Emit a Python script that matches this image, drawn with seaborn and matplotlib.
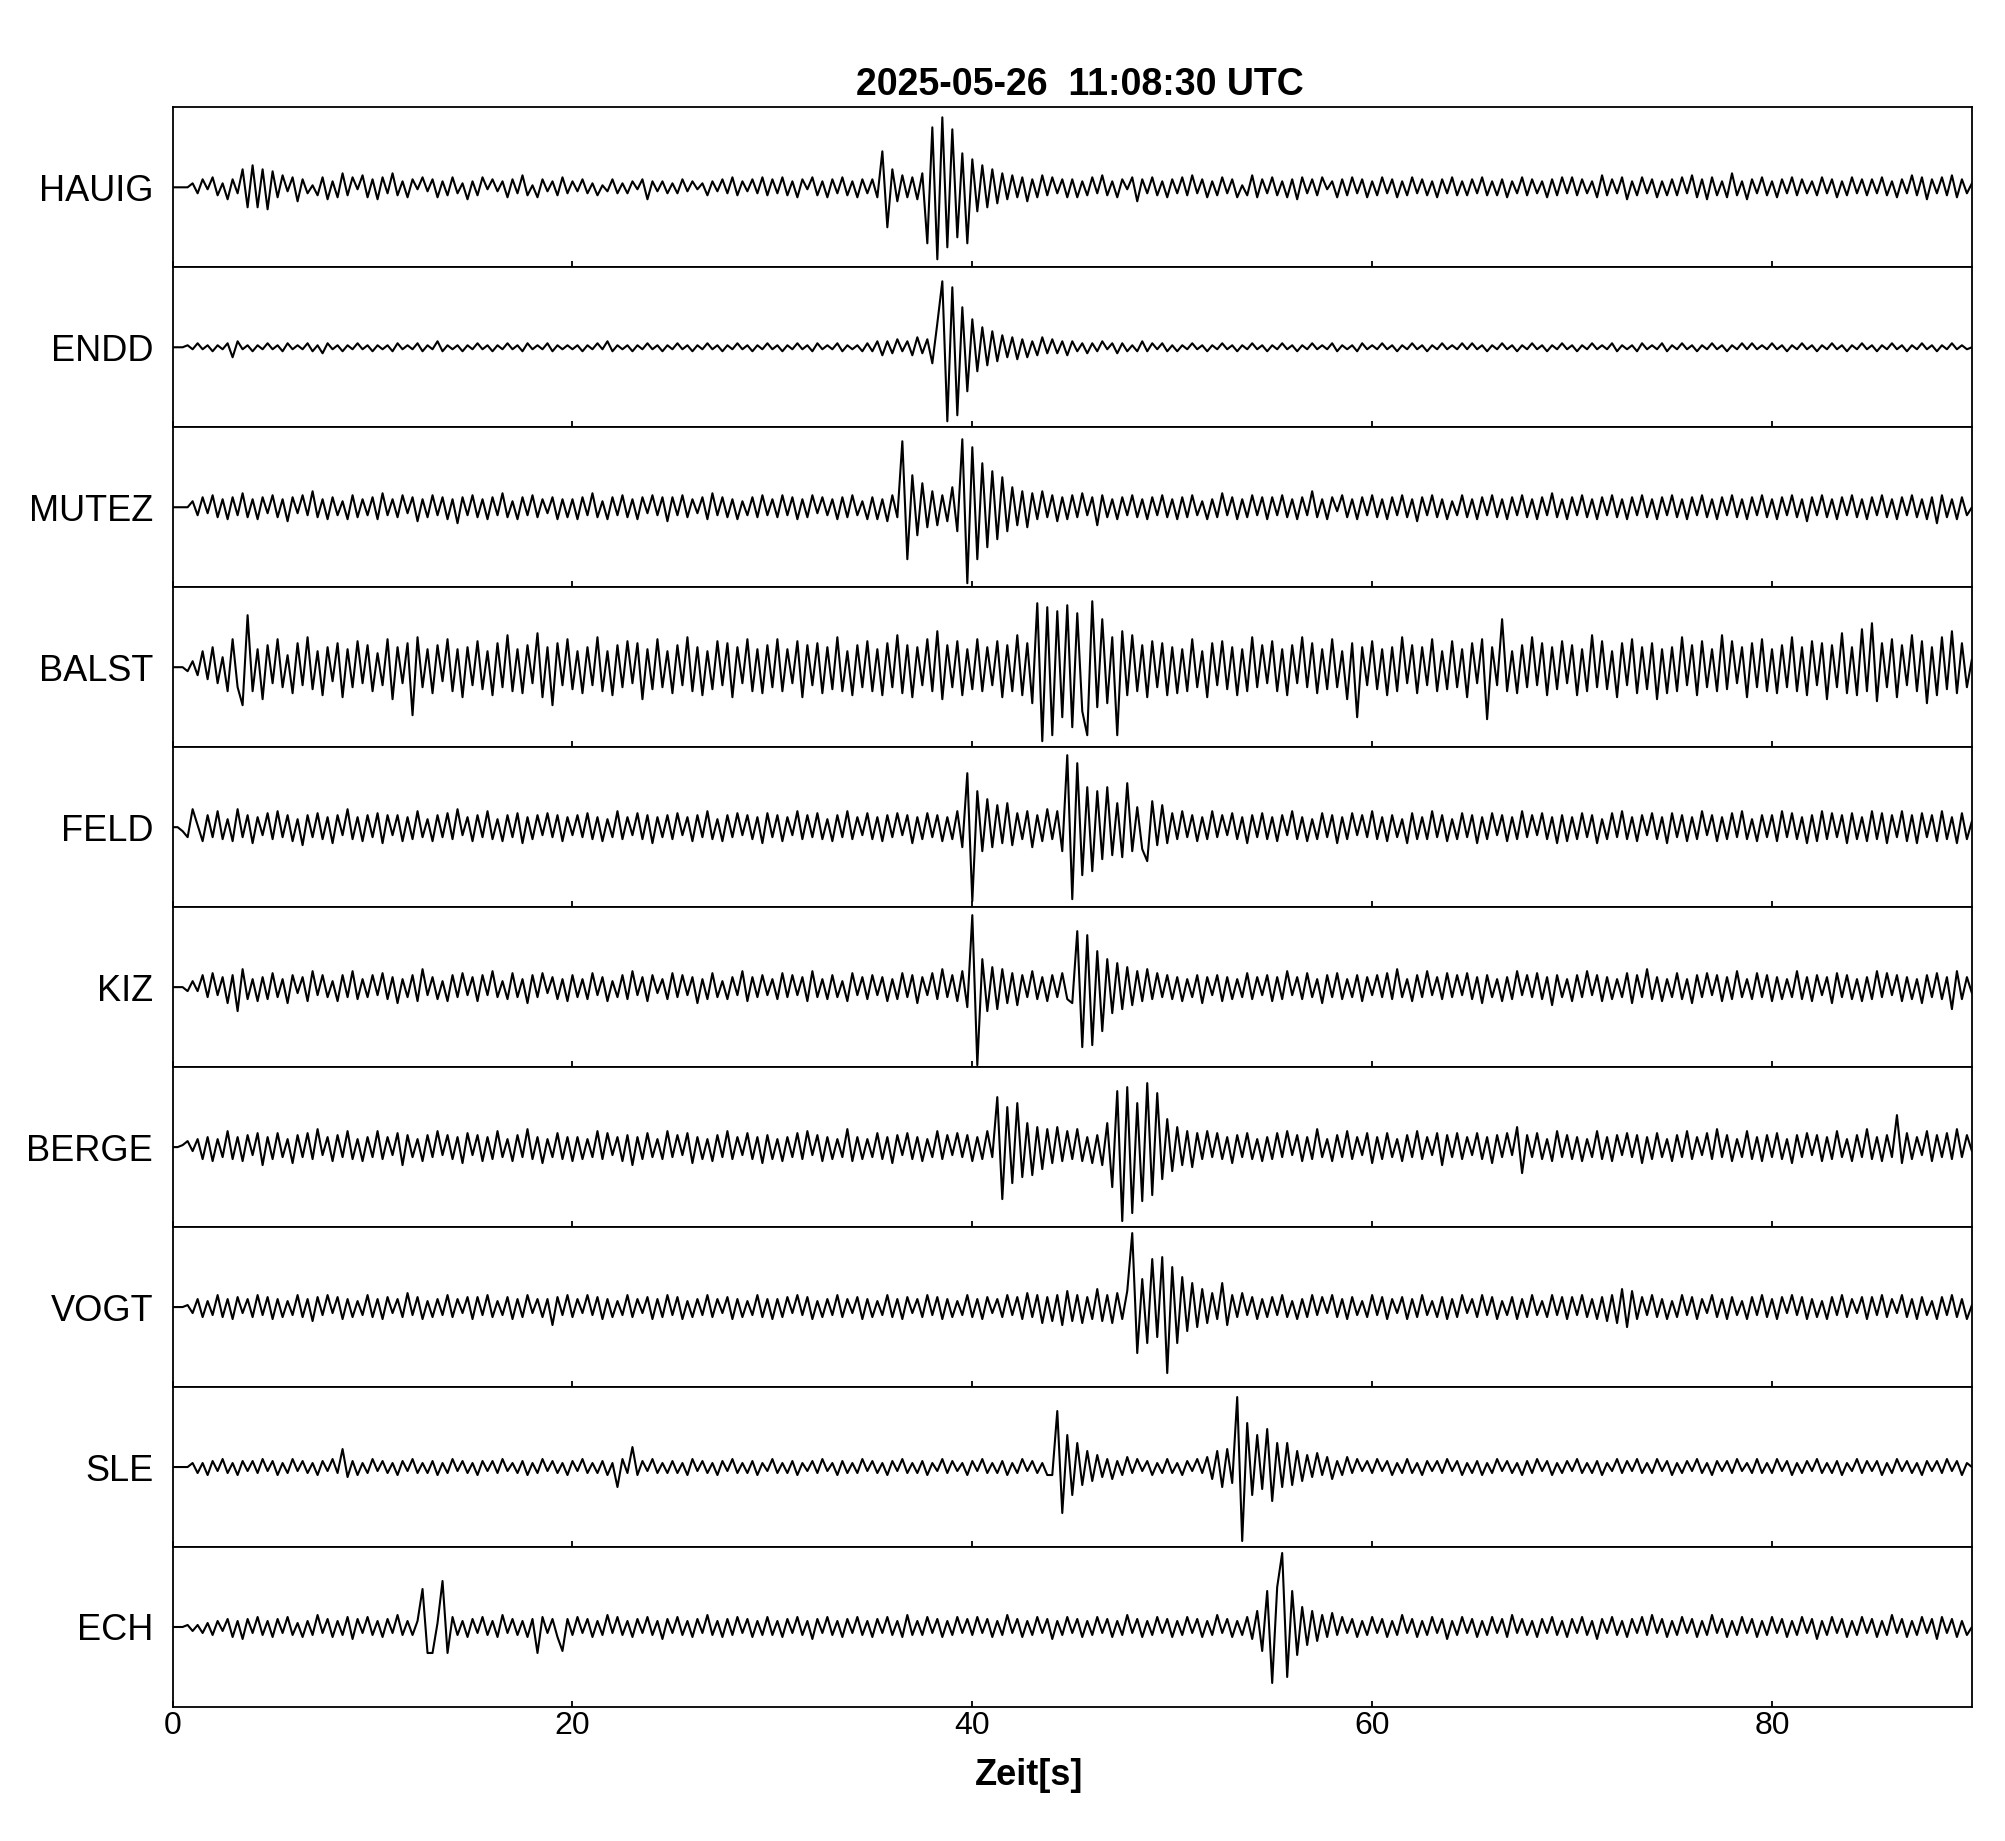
import numpy as np
import matplotlib
matplotlib.use("Agg")
import matplotlib.pyplot as plt
import seaborn as sns

TITLE    = "2025-05-26  11:08:30 UTC"
X_LABEL  = "Zeit[s]"
X_TICKS  = [0, 20, 40, 60, 80]
DURATION = 90

# traces, one sample every 0.25 s (20 samples = 5 s per row)
HAUIG = [
    0, 0, 0, 0, 2, -3, 4, -1, 5, -4, 2, -6, 4, -3, 9, -10, 11, -10, 9, -11,
    8, -5, 6, -2, 5, -7, 4, -3, 1, -4, 5, -6, 3, -5, 7, -4, 5, -1, 6, -5,
    4, -6, 5, -3, 7, -4, 3, -5, 4, -1, 5, -2, 4, -5, 3, -4, 5, -3, 2, -6,
    3, -4, 5, -1, 4, -2, 3, -5, 4, -3, 6, -4, 1, -5, 4, -2, 3, -4, 5, -3,
    3, -2, 4, -3, 2, -4, 1, -2, 4, -3, 2, -3, 3, -1, 4, -6, 3, -2, 3, -3,
    2, -3, 4, -2, 3, -1, 2, -4, 3, -2, 4, -3, 5, -4, 3, -2, 4, -3, 5, -4,
    4, -3, 5, -4, 3, -5, 4, -1, 5, -4, 3, -5, 4, -3, 5, -4, 3, -5, 4, -3,
    4, -5, 18, -20, 9, -7, 6, -5, 5, -6, 7, -28, 30, -36, 35, -30, 29, -25, 17, -28,
    14, -12, 11, -10, 9, -8, 7, -6, 6, -5, 5, -7, 4, -5, 6, -4, 5, -3, 4, -5,
    4, -5, 3, -4, 5, -3, 6, -4, 3, -5, 4, -1, 5, -7, 4, -3, 5, -4, 3, -5,
    4, -3, 5, -4, 6, -3, 4, -5, 3, -4, 5, -3, 4, -5, 1, -4, 6, -5, 4, -3,
    5, -4, 3, -5, 4, -6, 5, -3, 4, -4, 5, -1, 3, -5, 4, -4, 5, -3, 4, -5,
    3, -4, 5, -3, 4, -5, 3, -4, 5, -3, 4, -4, 3, -5, 4, -3, 5, -4, 3, -4,
    4, -3, 5, -4, 3, -4, 4, -5, 3, -3, 5, -4, 4, -3, 3, -5, 4, -4, 5, -3,
    5, -4, 4, -3, 3, -5, 6, -4, 4, -3, 5, -6, 3, -4, 5, -3, 4, -5, 3, -4,
    4, -4, 5, -3, 6, -5, 4, -6, 5, -4, 3, -5, 7, -4, 3, -6, 4, -3, 5, -4,
    3, -5, 4, -3, 5, -4, 4, -3, 3, -4, 5, -3, 4, -5, 3, -4, 5, -3, 4, -4,
    4, -3, 5, -4, 3, -5, 4, -3, 6, -4, 5, -6, 4, -3, 5, -4, 6, -5, 4, -3,
    2,
]

ENDD = [
    0, 0, 0, 1, -1, 2, -1, 1, -2, 1, -1, 2, -5, 3, -1, 1, -2, 1, -1, 2,
    -1, 1, -2, 2, -1, 1, -1, 2, -2, 1, -3, 2, -1, 1, -2, 1, -1, 2, -1, 1,
    -2, 1, -1, 1, -2, 2, -1, 1, -1, 2, -2, 1, -1, 3, -2, 1, -1, 1, -2, 1,
    -1, 2, -1, 1, -2, 1, -1, 2, -1, 1, -2, 2, -1, 1, -1, 2, -2, 1, -1, 1,
    -1, 1, -2, 1, -1, 2, -1, 3, -2, 1, -1, 1, -2, 1, -1, 2, -1, 1, -2, 1,
    -1, 2, -1, 1, -2, 1, -1, 2, -1, 1, -2, 1, -1, 2, -1, 1, -2, 1, -1, 2,
    -1, 1, -2, 1, -1, 2, -1, 1, -2, 2, -1, 1, -1, 2, -2, 1, -1, 1, -2, 2,
    -2, 3, -4, 3, -3, 4, -2, 3, -4, 5, -3, 4, -8, 12, 33, -37, 30, -34, 20, -22,
    14, -12, 10, -9, 8, -7, 6, -5, 5, -6, 4, -5, 3, -4, 5, -3, 4, -3, 3, -4,
    3, -2, 2, -3, 2, -2, 3, -1, 2, -3, 2, -2, 1, -2, 3, -2, 2, -1, 2, -2,
    1, -2, 1, -1, 2, -1, 1, -2, 1, -1, 2, -1, 1, -2, 1, -1, 2, -1, 1, -2,
    1, -1, 2, -1, 1, -2, 1, -1, 2, -1, 1, -1, 2, -2, 1, -1, 1, -2, 2, -1,
    1, -1, 2, -1, 1, -2, 1, -1, 2, -1, 1, -2, 1, -1, 2, -1, 1, -1, 2, -1,
    2, -1, 1, -2, 1, -1, 2, -1, 1, -2, 1, -1, 2, -1, 1, -2, 1, -1, 2, -1,
    1, -2, 1, -1, 2, -1, 1, -1, 2, -2, 1, -1, 1, -2, 2, -1, 1, -1, 2, -2,
    1, -1, 2, -1, 1, -2, 1, -1, 2, -1, 1, -2, 1, -1, 2, -1, 2, -1, 1, -1,
    2, -1, 1, -2, 1, -1, 2, -1, 1, -2, 1, -1, 2, -1, 1, -2, 1, -1, 2, -1,
    1, -2, 1, -1, 2, -1, 1, -2, 1, -1, 2, -1, 1, -2, 1, -1, 2, -1, 1, -1,
    0,
]

MUTEZ = [
    0, 0, 0, 0, 3, -4, 5, -3, 6, -5, 4, -6, 5, -4, 7, -5, 4, -6, 5, -3,
    6, -5, 4, -7, 5, -3, 6, -4, 8, -5, 4, -6, 5, -4, 3, -6, 6, -5, 4, -4,
    5, -6, 7, -4, 4, -5, 6, -3, 5, -7, 4, -5, 6, -4, 5, -6, 4, -8, 5, -4,
    6, -5, 4, -6, 5, -4, 7, -5, 3, -6, 5, -4, 6, -5, 4, -3, 5, -6, 4, -5,
    4, -6, 5, -4, 7, -5, 3, -6, 5, -4, 6, -5, 4, -6, 5, -3, 6, -4, 5, -7,
    5, -4, 6, -5, 4, -3, 5, -6, 7, -4, 5, -5, 4, -6, 3, -4, 5, -5, 6, -4,
    4, -5, 6, -4, 5, -6, 4, -5, 6, -3, 5, -4, 4, -6, 5, -5, 6, -4, 3, -6,
    5, -6, 4, -7, 6, -5, 33, -26, 16, -14, 12, -10, 8, -9, 6, -7, 10, -12, 34, -38,
    30, -26, 22, -20, 18, -16, 15, -12, 10, -9, 8, -10, 7, -6, 8, -5, 6, -7, 5, -6,
    6, -5, 7, -4, 5, -9, 6, -5, 4, -6, 5, -4, 6, -5, 4, -6, 5, -4, 6, -5,
    4, -6, 5, -5, 6, -4, 3, -6, 4, -5, 7, -4, 5, -6, 4, -5, 6, -4, 5, -6,
    5, -4, 6, -5, 4, -6, 5, -4, 8, -5, 4, -6, 5, -2, 6, -5, 4, -6, 5, -4,
    6, -5, 4, -6, 5, -4, 6, -5, 4, -7, 5, -4, 6, -5, 4, -6, 3, -4, 6, -5,
    4, -6, 5, -4, 6, -5, 4, -6, 5, -4, 6, -5, 4, -6, 5, -4, 7, -5, 4, -6,
    5, -4, 6, -5, 4, -6, 5, -4, 6, -5, 4, -6, 5, -4, 6, -5, 4, -6, 5, -4,
    6, -5, 4, -6, 5, -4, 6, -5, 4, -6, 5, -4, 6, -5, 4, -6, 5, -4, 6, -5,
    4, -6, 5, -4, 6, -5, 4, -7, 5, -4, 6, -5, 4, -6, 5, -4, 6, -5, 4, -6,
    5, -4, 6, -5, 4, -6, 5, -4, 6, -5, 4, -6, 5, -8, 6, -5, 4, -6, 5, -4,
    0,
]

BALST = [
    0, 0, 0, -2, 3, -4, 8, -6, 10, -8, 5, -12, 14, -10, -19, 26, -12, 9, -16, 11,
    -8, 14, -10, 6, -13, 12, -9, 15, -11, 8, -14, 10, -7, 12, -15, 9, -10, 13, -8, 11,
    -12, 7, -9, 14, -16, 10, -8, 12, -24, 15, -10, 9, -13, 11, -7, 14, -12, 9, -15, 10,
    -9, 13, -11, 8, -14, 12, -10, 16, -12, 9, -13, 11, -8, 17, -15, 10, -19, 12, -9, 14,
    -11, 8, -13, 10, -9, 15, -12, 8, -14, 11, -10, 13, -8, 12, -16, 9, -11, 14, -10, 8,
    -13, 11, -9, 15, -12, 10, -14, 8, -11, 13, -9, 12, -15, 10, -8, 14, -12, 9, -13, 11,
    -10, 14, -12, 9, -8, 13, -15, 11, -9, 12, -13, 10, -11, 15, -12, 8, -14, 11, -10, 13,
    -12, 9, -14, 12, -10, 16, -13, 11, -15, 10, -9, 14, -12, 18, -16, 11, -10, 13, -14, 9,
    -11, 14, -12, 10, -9, 13, -15, 11, -12, 16, -14, 12, -18, 32, -37, 30, -34, 28, -25, 31,
    -30, 27, -22, -34, 33, -20, 24, -18, 15, -34, 18, -14, 16, -12, 11, -15, 13, -10, 12, -14,
    10, -13, 9, -12, 14, -10, 8, -15, 12, -9, 13, -11, 10, -14, 9, -12, 15, -10, 11, -8,
    13, -12, 9, -14, 11, -8, 15, -10, 12, -13, 9, -11, 14, -10, 8, -16, 12, -25, 10, -9,
    13, -11, 9, -14, 10, -12, 15, -8, 11, -13, 10, -9, 14, -12, 8, -11, 13, -10, 9, -15,
    12, -8, 14, -26, 10, -9, 24, -12, 8, -13, 11, -10, 15, -9, 12, -14, 10, -11, 13, -8,
    11, -14, 9, -12, 16, -10, 13, -11, 8, -15, 12, -9, 14, -13, 10, -11, 12, -16, 9, -13,
    10, -12, 15, -9, 11, -14, 13, -10, 9, -12, 16, -11, 13, -8, 10, -15, 12, -10, 14, -12,
    9, -13, 11, -10, 15, -12, 10, -14, 13, -9, 12, -16, 11, -10, 17, -13, 10, -14, 19, -12,
    22, -17, 12, -10, 14, -15, 11, -9, 16, -12, 13, -18, 10, -14, 15, -11, 18, -13, 12, -10,
    4,
]

FELD = [
    0, 0, -2, -5, 9, 1, -7, 6, -5, 8, -6, 4, -7, 9, -5, 6, -8, 5, -4, 7,
    -6, 8, -5, 6, -7, 4, -9, 6, -5, 7, -6, 5, -8, 6, -4, 9, -6, 5, -7, 6,
    -5, 7, -8, 6, -4, 6, -7, 5, -6, 8, -5, 4, -7, 6, -5, 7, -6, 9, -4, 5,
    -7, 6, -5, 8, -6, 4, -7, 6, -5, 7, -8, 5, -6, 6, -4, 7, -5, 6, -7, 5,
    -4, 6, -5, 7, -6, 5, -7, 4, -5, 8, -6, 5, -4, 7, -6, 6, -8, 5, -5, 6,
    -6, 7, -4, 5, -7, 6, -5, 8, -6, 4, -7, 6, -5, 7, -4, 6, -6, 5, -8, 7,
    -5, 6, -7, 5, -4, 8, -6, 6, -5, 7, -6, 4, -7, 6, -5, 8, -6, 5, -4, 7,
    -6, 5, -7, 6, -5, 7, -4, 6, -8, 5, -6, 7, -5, 6, -7, 5, -6, 8, -10, 27,
    -37, 18, -12, 14, -10, 11, -8, 12, -9, 7, -6, 8, -10, 6, -7, 9, -6, 8, -12, 36,
    -36, 32, -24, 20, -22, 18, -16, 20, -14, 12, -15, 22, -12, 10, -11, -17, 13, -9, 11, -8,
    7, -6, 8, -5, 6, -7, 5, -6, 8, -5, 6, -4, 7, -6, 5, -8, 6, -5, 7, -6,
    5, -7, 6, -4, 8, -6, 5, -7, 4, -6, 7, -5, 6, -8, 5, -6, 7, -4, 6, -5,
    8, -6, 5, -7, 6, -5, 4, -8, 7, -6, 5, -6, 8, -5, 6, -7, 4, -6, 7, -5,
    6, -8, 5, -6, 7, -4, 6, -7, 5, -6, 8, -5, 6, -4, 7, -6, 5, -8, 6, -7,
    5, -6, 7, -5, 6, -8, 4, -6, 7, -5, 8, -6, 5, -7, 6, -4, 7, -6, 5, -8,
    7, -5, 6, -7, 5, -6, 8, -4, 6, -7, 5, -6, 7, -5, 8, -6, 4, -7, 6, -5,
    6, -7, 8, -5, 7, -6, 5, -8, 6, -7, 8, -6, 7, -5, 6, -8, 7, -6, 5, -7,
    8, -6, 7, -8, 6, -5, 8, -7, 6, -8, 7, -5, 6, -7, 8, -6, 5, -8, 7, -6,
    3,
]

KIZ = [
    0, 0, 0, -2, 3, -2, 6, -5, 7, -4, 5, -8, 6, -12, 9, -6, 4, -7, 5, -6,
    7, -5, 4, -8, 6, -3, 5, -7, 8, -4, 6, -5, 3, -7, 6, -5, 8, -6, 4, -5,
    6, -4, 7, -6, 5, -8, 4, -5, 6, -7, 9, -4, 5, -6, 3, -7, 6, -5, 7, -4,
    5, -7, 6, -4, 8, -5, 3, -6, 7, -5, 4, -8, 6, -5, 7, -3, 5, -6, 4, -7,
    6, -5, 4, -6, 7, -4, 5, -7, 3, -5, 6, -6, 8, -4, 5, -7, 6, -3, 4, -6,
    7, -5, 6, -4, 5, -8, 4, -6, 7, -5, 3, -6, 5, -4, 8, -7, 5, -5, 6, -4,
    4, -6, 7, -5, 6, -4, 5, -7, 8, -5, 4, -6, 6, -5, 3, -7, 7, -4, 5, -6,
    6, -4, 5, -7, 4, -6, 7, -5, 6, -8, 5, -4, 7, -6, 9, -5, 6, -7, 8, -10,
    36, -39, 14, -12, 10, -11, 9, -8, 7, -9, 6, -5, 8, -6, 5, -7, 6, -5, 7, -6,
    -8, 28, -30, 26, -29, 18, -22, 14, -13, 12, -11, 10, -9, 8, -7, 9, -6, 7, -5, 6,
    -6, 5, -7, 4, -5, 6, -8, 5, -4, 6, -7, 5, -6, 4, -5, 7, -6, 5, -4, 6,
    -7, 5, -6, 8, -4, 5, -6, 7, -5, 4, -8, 6, -5, 7, -6, 4, -5, 6, -7, 5,
    -4, 6, -5, 7, -6, 9, -5, 4, -7, 6, -5, 8, -4, 5, -6, 7, -5, 6, -4, 7,
    -6, 5, -8, 6, -5, 4, -7, 5, -6, 8, -4, 6, -5, 7, -6, 5, -9, 6, -5, 4,
    -7, 6, -5, 8, -4, 6, -7, 5, -6, 4, -5, 7, -8, 6, -5, 9, -6, 5, -7, 4,
    -5, 7, -6, 4, -8, 6, -5, 7, -4, 6, -7, 5, -6, 8, -5, 4, -6, 7, -5, 6,
    -7, 5, -6, 4, -5, 8, -6, 5, -7, 6, -4, 5, -8, 7, -5, 6, -6, 4, -7, 5,
    -6, 8, -5, 7, -4, 6, -7, 5, -6, 4, -8, 6, -5, 7, -6, 5, -11, 8, -6, 5,
    -3,
]

BERGE = [
    0, 0, 1, 3, -2, 4, -6, 5, -7, 4, -5, 8, -6, 5, -7, 6, -4, 7, -9, 5,
    -6, 7, -5, 4, -8, 6, -5, 7, -6, 9, -4, 5, -7, 6, -5, 8, -6, 4, -7, 5,
    -5, 8, -6, 5, -4, 7, -9, 6, -5, 4, -7, 6, -5, 8, -4, 6, -6, 5, -8, 7,
    -4, 6, -7, 5, -6, 8, -5, 4, -7, 6, -5, 9, -6, 5, -8, 4, -5, 7, -6, 5,
    -7, 5, -6, 4, -5, 8, -6, 7, -4, 5, -7, 6, -9, 5, -6, 7, -5, 4, -6, 8,
    -5, 6, -4, 7, -8, 5, -6, 4, -7, 6, -5, 8, -6, 5, -4, 7, -6, 5, -8, 6,
    -6, 4, -7, 5, -5, 7, -6, 8, -4, 6, -7, 5, -6, 4, -5, 9, -7, 5, -6, 4,
    -5, 7, -6, 5, -8, 6, -4, 7, -6, 5, -7, 4, -5, 8, -6, 6, -4, 7, -5, 6,
    -7, 5, -6, 8, -5, 25, -26, 20, -18, 22, -15, 12, -14, 10, -11, 9, -8, 10, -7, 8,
    -6, 9, -7, 5, -8, 6, -9, 12, -20, 28, -37, 30, -33, 22, -27, 32, -24, 27, -16, 14,
    -12, 10, -9, 8, -10, 7, -6, 8, -5, 7, -6, 5, -8, 6, -5, 7, -6, 4, -7, 5,
    -6, 7, -5, 8, -4, 6, -7, 5, -6, 9, -5, 4, -7, 6, -5, 8, -6, 5, -4, 7,
    -8, 5, -6, 7, -5, 4, -7, 6, -5, 8, -6, 5, -4, 7, -9, 6, -5, 7, -6, 5,
    -4, 7, -6, 5, -8, 6, -5, 7, -4, 10, -13, 6, -5, 7, -6, 4, -7, 8, -5, 6,
    -6, 5, -7, 4, -5, 8, -6, 5, -7, 6, -4, 7, -5, 6, -8, 5, -6, 7, -5, 4,
    -7, 6, -5, 8, -6, 5, -4, 7, -6, 9, -5, 6, -7, 4, -5, 8, -6, 5, -7, 6,
    -5, 7, -6, 4, -8, 6, -5, 7, -4, 6, -7, 5, -6, 8, -5, 4, -7, 6, -5, 9,
    -6, 5, -7, 6, -5, 16, -8, 7, -6, 5, -4, 8, -7, 6, -5, 7, -6, 9, -5, 6,
    -2,
]

VOGT = [
    0, 0, 0, 1, -3, 4, -5, 3, -4, 6, -5, 4, -6, 5, -3, 4, -5, 6, -4, 5,
    -6, 4, -5, 3, -4, 6, -5, 4, -7, 5, -4, 6, -3, 5, -6, 4, -5, 3, -4, 6,
    -5, 4, -6, 5, -3, 4, -5, 7, -4, 5, -6, 3, -5, 4, -4, 6, -5, 4, -3, 5,
    -6, 5, -4, 6, -5, 3, -4, 5, -6, 4, -5, 6, -3, 4, -5, 4, -9, 5, -4, 6,
    -5, 4, -3, 6, -4, 5, -6, 4, -5, 3, -4, 6, -5, 4, -3, 5, -6, 4, -5, 6,
    -4, 5, -6, 3, -5, 4, -4, 6, -5, 4, -3, 5, -6, 4, -5, 3, -4, 6, -5, 4,
    -6, 4, -5, 5, -3, 6, -4, 5, -6, 3, -5, 4, -4, 6, -5, 4, -3, 5, -6, 4,
    -5, 3, -4, 6, -5, 4, -6, 5, -3, 4, -5, 6, -4, 5, -6, 4, -5, 3, -4, 6,
    -5, 4, -6, 5, -3, 4, -5, 6, -4, 5, -6, 7, -5, 6, -8, 5, -7, 6, -9, 8,
    -7, 6, -8, 5, -6, 9, -7, 6, -8, 7, -6, 8, 37, -23, 14, -18, 24, -15, 25, -33,
    20, -18, 15, -12, 12, -10, 9, -8, 7, -6, 12, -9, 6, -5, 7, -4, 5, -6, 4, -5,
    5, -4, 6, -5, 3, -6, 4, -5, 6, -4, 5, -3, 6, -5, 4, -6, 5, -4, 3, -5,
    6, -4, 5, -6, 4, -3, 5, -6, 4, -5, 6, -4, 3, -5, 5, -6, 4, -5, 6, -3,
    4, -5, 6, -4, 5, -6, 3, -4, 5, -6, 4, -5, 6, -4, 3, -5, 6, -4, 5, -6,
    5, -4, 6, -5, 4, -6, 5, -7, 6, -8, 9, -10, 8, -6, 5, -4, 6, -5, 4, -6,
    3, -5, 6, -4, 5, -6, 4, -3, 6, -5, 4, -6, 5, -4, 3, -6, 5, -4, 6, -5,
    4, -6, 5, -3, 6, -4, 5, -6, 4, -5, 3, -6, 5, -4, 6, -5, 4, -3, 5, -6,
    5, -4, 6, -5, 4, -3, 6, -5, 4, -6, 5, -4, 3, -6, 5, -4, 6, -5, 4, -6,
    1,
]

SLE = [
    0, 0, 0, 0, 2, -3, 2, -4, 3, -2, 4, -3, 2, -4, 3, -2, 3, -3, 4, -2,
    3, -4, 2, -3, 4, -2, 3, -3, 2, -4, 3, -2, 4, -3, 9, -5, 3, -4, 2, -3,
    4, -2, 3, -3, 2, -4, 3, -2, 4, -3, 2, -3, 3, -4, 2, -3, 4, -2, 3, -3,
    2, -4, 3, -2, 3, -3, 4, -2, 2, -3, 3, -4, 2, -3, 4, -2, 3, -3, 2, -4,
    3, -2, 4, -3, 2, -3, 3, -4, 2, -10, 4, -3, 10, -4, 3, -2, 4, -3, 2, -3,
    3, -3, 2, -4, 4, -2, 3, -3, 2, -4, 3, -2, 4, -3, 2, -3, 3, -4, 2, -2,
    4, -3, 2, -3, 3, -4, 2, -2, 3, -3, 4, -2, 2, -4, 3, -3, 2, -3, 4, -2,
    3, -3, 2, -4, 3, -2, 4, -3, 2, -3, 3, -4, 2, -2, 4, -3, 3, -2, 2, -4,
    3, -2, 4, -3, 2, -3, 3, -4, 2, -3, 4, -2, 3, -3, 2, -4, -4, 28, -23, 16,
    -14, 12, -9, 8, -7, 6, -5, 4, -6, 3, -4, 5, -3, 4, -2, 3, -4, 2, -3, 4,
    -3, 2, -4, 3, -2, 4, -3, 5, -6, 8, -10, 9, -8, 35, -37, 22, -14, 16, -11, 19,
    -17, 12, -10, 12, -9, 8, -7, 6, -5, 7, -4, 5, -6, 3, -4, 5, -3, 4, -2, 3,
    -3, 4, -2, 3, -4, 2, -3, 4, -3, 2, -4, 3, -2, 3, -3, 4, -2, 3, -4, 2,
    -3, 3, -4, 2, -3, 4, -2, 3, -3, 2, -4, 3, -3, 4, -2, 3, -4, 2, -3, 3,
    -2, 4, -3, 2, -3, 3, -4, 2, -2, 4, -3, 3, -2, 4, -3, 2, -3, 4, -2, 3,
    -4, 2, -3, 3, -2, 4, -3, 2, -4, 3, -2, 3, -3, 4, -2, 2, -3, 4, -3, 2,
    -3, 4, -2, 3, -4, 2, -3, 3, -2, 4, -3, 2, -3, 3, -4, 2, -2, 4, -3, 3,
    -2, 3, -4, 2, -3, 4, -2, 3, -3, 2, -4, 3, -2, 3, -3, 4, -2, 3, -4, 2,
    0,
]

ECH = [
    0, 0, 0, 1, -2, 1, -3, 2, -4, 3, -2, 4, -5, 3, -6, 4, -3, 5, -4, 3,
    -5, 4, -3, 5, -4, 2, -5, 3, -4, 6, -3, 4, -5, 3, -4, 5, -6, 4, -3, 5,
    -4, 3, -5, 4, -3, 6, -4, 3, -4, 3, 19, -13, -13, 2, 23, -13, 5, -4, 3, -5,
    4, -3, 5, -4, 3, -5, 6, -3, 4, -4, 3, -5, 4, -13, 5, -3, 4, -5, -12, 4,
    -4, 5, -3, 4, -5, 3, -4, 6, -3, 5, -4, 3, -5, 4, -3, 5, -4, 3, -6, 4,
    -3, 5, -4, 3, -5, 4, -3, 6, -4, 3, -5, 4, -4, 5, -3, 4, -5, 3, -4, 5,
    -4, 3, -5, 4, -3, 5, -4, 3, -6, 4, -3, 5, -4, 3, -5, 4, -3, 5, -4, 3,
    -5, 4, -3, 5, -4, 3, -5, 6, -4, 3, -4, 5, -3, 4, -5, 3, -4, 5, -3, 4,
    -4, 5, -3, 4, -5, 3, -4, 6, -3, 4, -5, 3, -4, 5, -3, 4, -6, 3, -4, 5,
    -3, 4, -5, 3, -4, 5, -3, 4, -5, 3, -4, 6, -3, 4, -5, 3, -4, 5, -3, 4,
    -5, 3, -4, 5, -3, 4, -5, 3, -4, 6, -3, 4, -5, 3, -4, 5, -6, 8, -12, 18,
    -28, 20, 37, -25, 18, -14, 10, -9, 8, -7, 6, -5, 7, -4, 5, -3, 4, -5, 3, -4,
    5, -3, 4, -5, 3, -4, 6, -3, 4, -5, 3, -4, 5, -3, 4, -6, 3, -4, 5, -3,
    4, -5, 3, -4, 5, -3, 4, -5, 6, -3, 4, -4, 3, -5, 4, -3, 5, -4, 3, -5,
    4, -3, 5, -4, 3, -6, 4, -3, 5, -4, 3, -5, 4, -3, 5, -4, 6, -3, 4, -5,
    3, -4, 5, -3, 4, -5, 3, -4, 6, -3, 4, -5, 3, -4, 5, -3, 4, -5, 3, -4,
    5, -3, 4, -5, 3, -4, 5, -3, 4, -6, 3, -4, 5, -3, 4, -5, 3, -4, 5, -3,
    4, -5, 3, -4, 6, -3, 4, -5, 3, -4, 5, -3, 4, -6, 5, -3, 4, -5, 3, -4,
    0,
]

STATIONS = ["HAUIG", "ENDD", "MUTEZ", "BALST", "FELD", "KIZ", "BERGE", "VOGT", "SLE", "ECH"]
TRACES   = [HAUIG, ENDD, MUTEZ, BALST, FELD, KIZ, BERGE, VOGT, SLE, ECH]


sns.set_theme(style="white")
plt.rcParams["font.family"] = ["Liberation Sans", "DejaVu Sans"]
plt.rcParams["text.color"] = "black"
plt.rcParams["axes.labelcolor"] = "black"
plt.rcParams["xtick.color"] = "black"
plt.rcParams["ytick.color"] = "black"

fig, axes = plt.subplots(len(STATIONS), 1, sharex=True, figsize=(20.05, 18.41), dpi=100)
fig.subplots_adjust(left=0.0861, right=0.9835, top=0.9417, bottom=0.0728, hspace=0)

for ax, name, vals in zip(axes, STATIONS, TRACES):
    t = np.linspace(0, DURATION, len(vals))
    sns.lineplot(x=t, y=vals, ax=ax, color="black", linewidth=1.5, estimator=None)
    ax.set_xlim(0, DURATION)
    ax.set_ylim(-40, 40)
    ax.set_yticks([0])
    ax.set_yticklabels([name], fontsize=26)
    ax.tick_params(axis="y", length=0, pad=14)
    ax.set_xticks(X_TICKS)
    ax.tick_params(axis="x", direction="in", length=4.5, width=1.3,
                   bottom=True, top=False, labelsize=23, pad=3)
    ax.set_ylabel("")
    ax.set_xlabel("")
    for sp in ax.spines.values():
        sp.set_linewidth(1.3)
        sp.set_color("black")

axes[0].set_title(TITLE, fontsize=27, fontweight="bold", pad=9, x=0.504, color="black")

axes[-1].set_xlabel(X_LABEL, fontsize=26, fontweight="bold")
axes[-1].xaxis.set_label_coords(0.476, -0.43)
axes[-1].xaxis.label.set_va("center")

fig.savefig("out.png", dpi=100)
